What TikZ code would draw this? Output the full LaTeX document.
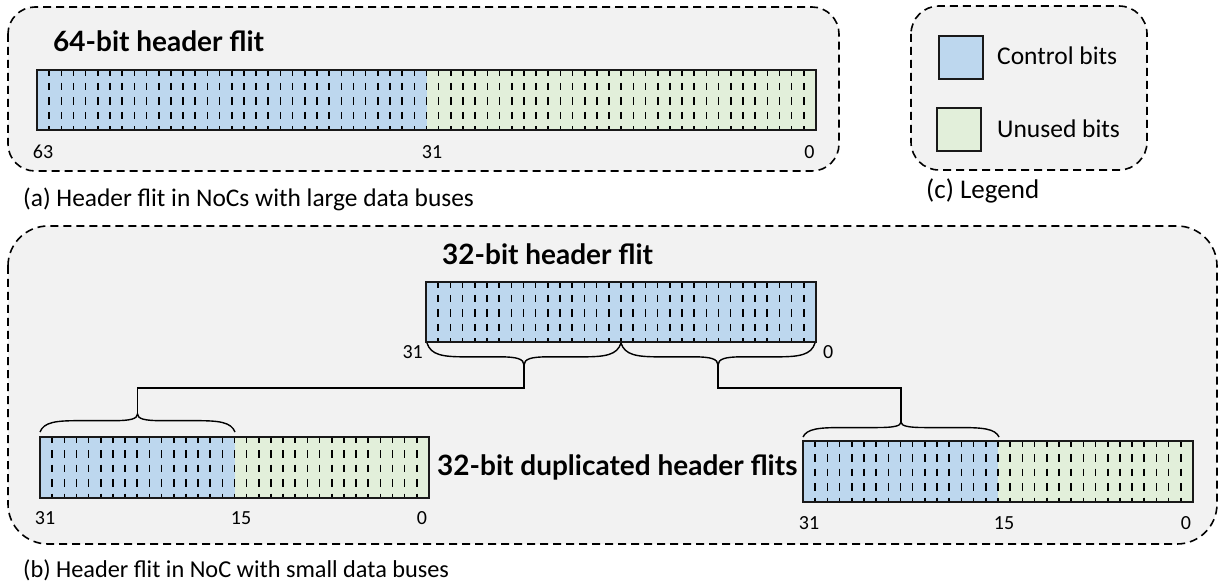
\documentclass[tikz,border=0pt]{standalone}
\usepackage{fontspec}
\setmainfont{Carlito}
\newfontfamily\titlefont{Lato}
\definecolor{ctrlblue}{HTML}{BDD7EE}
\definecolor{unusedgreen}{HTML}{E2EFDA}
\definecolor{panelbg}{HTML}{F2F2F2}
\tikzset{
  panel/.style={draw=black, fill=panelbg, line width=1.6pt, dash pattern=on 8pt off 5pt},
  ctrlfill/.style={fill=ctrlblue},
  unusedfill/.style={fill=unusedgreen},
  bittick/.style={draw=black, line width=1.6pt, dash pattern=on 7.5pt off 7pt, dash phase=1.5pt},
  barframe/.style={draw=black!90, line width=2pt},
  title/.style={inner sep=0pt, anchor=base west, font=\titlefont\bfseries\fontsize{28}{30}\selectfont},
  caption/.style={inner sep=0pt, anchor=base west, font=\fontsize{25.4}{28}\selectfont},
  bitnum/.style={inner sep=0pt, anchor=center, font=\fontsize{20}{22}\selectfont},
  legtext/.style={inner sep=0pt, anchor=base west, font=\fontsize{25.5}{28}\selectfont},
  legbox/.style={draw=black!90, line width=1.8pt},
  conn/.style={draw=black, line width=1.4pt},
  bracepath/.style={draw=black, line width=1.4pt},
}
% flit bar: x1,y1,x2,y2,nbits,nctrl
\newcommand{\flitbar}[6]{%
  \pgfmathsetmacro\fbw{(#3-#1)/#5}%
  \pgfmathsetmacro\fbxs{#1+#6*\fbw}%
  \fill[ctrlfill] (#1,#2) rectangle (\fbxs,#4);
  \ifnum#6<#5\relax \fill[unusedfill] (\fbxs,#2) rectangle (#3,#4);\fi
  \pgfmathtruncatemacro\fbn{#5-1}%
  \foreach \k in {1,...,\fbn}{\draw[bittick] ({#1+\k*\fbw},#2) -- ({#1+\k*\fbw},#4);}
  \draw[barframe] (#1,#2) rectangle (#3,#4);
}
% curly brace: x1,x2,y0,d (d>0 opens downward)
\newcommand{\curlybrace}[4]{%
  \pgfmathsetmacro\cbw{#2-#1}%
  \pgfmathsetmacro\cbm{(#1+#2)/2}%
  \draw[bracepath] (#1,#3)
    .. controls ({#1+0.02*\cbw},{#3+0.55*#4}) and ({#1+0.08*\cbw},{#3+0.63*#4}) .. ({#1+0.2*\cbw},{#3+0.63*#4})
    -- ({\cbm-0.12*\cbw},{#3+0.63*#4})
    .. controls ({\cbm-0.04*\cbw},{#3+0.63*#4}) and (\cbm,{#3+0.72*#4}) .. (\cbm,{#3+#4})
    .. controls (\cbm,{#3+0.72*#4}) and ({\cbm+0.04*\cbw},{#3+0.63*#4}) .. ({\cbm+0.12*\cbw},{#3+0.63*#4})
    -- ({#2-0.2*\cbw},{#3+0.63*#4})
    .. controls ({#2-0.08*\cbw},{#3+0.63*#4}) and ({#2-0.02*\cbw},{#3+0.55*#4}) .. (#2,#3);
}
\begin{document}
\begin{tikzpicture}[x=1pt,y=-1pt]
\useasboundingbox (0,0) rectangle (1221,585);

% panels
\draw[panel, rounded corners=27pt] (8,7) rectangle (839,171);
\draw[panel, rounded corners=28pt] (911,6) rectangle (1147,170);
\draw[panel, rounded corners=40pt] (8,226) rectangle (1217,544);

% (a) 64-bit header flit
\node[title] (ta) at (53,52) {64-bit header flit};
\flitbar{37}{70}{816}{130}{64}{32}
\node[bitnum] (a63) at (43,152) {63};
\node[bitnum] (a31) at (432,152) {31};
\node[bitnum] (a0) at (809.5,152) {0};
\node[caption] (capa) at (23,207) {(a) Header flit in NoCs with large data buses};

% (c) legend
\draw[legbox, ctrlfill] (939,36) rectangle (983,79);
\draw[legbox, unusedfill] (937,108) rectangle (981,151);
\node[legtext] (lc) at (997,65) {Control bits};
\node[legtext] (lu) at (997,138) {Unused bits};
\node[caption, font=\fontsize{27}{30}\selectfont] (capc) at (926,199) {(c) Legend};

% (b) 32-bit header flit
\node[title] (tb) at (442,265) {32-bit header flit};
\flitbar{426}{282}{816}{342}{32}{32}
\node[bitnum, anchor=east] (b31) at (423,352) {31};
\node[bitnum, anchor=west] (b0) at (823,352) {0};

\curlybrace{427}{621}{343}{22}
\curlybrace{621}{815}{343}{22}
\coordinate (tipL) at (524,365);
\coordinate (tipR) at (718,365);

% lower-left duplicated flit
\flitbar{40}{437}{429}{498}{32}{16}
\curlybrace{40}{235}{432}{-18}
\coordinate (tipLL) at (137.5,414);
\node[bitnum] (l31) at (45,518) {31};
\node[bitnum] (l15) at (241,518) {15};
\node[bitnum] (l0) at (422,518) {0};

% lower-right duplicated flit
\flitbar{803}{441}{1193}{502}{32}{16}
\curlybrace{803}{999}{437}{-15}
\coordinate (tipRR) at (901,422);
\node[bitnum] (r31) at (809,523) {31};
\node[bitnum] (r15) at (1004,523) {15};
\node[bitnum] (r0) at (1186,523) {0};

\node[title] (td) at (437,475) {32-bit duplicated header flits};

% connectors
\draw[conn] (tipL) -- (tipL |- 0,388) -- (tipLL |- 0,388) -- (tipLL);
\draw[conn] (tipR) -- (tipR |- 0,388) -- (tipRR |- 0,388) -- (tipRR);

\node[caption, font=\fontsize{24.3}{27}\selectfont] (capb) at (23,577) {(b) Header flit in NoC with small data buses};
\end{tikzpicture}
\end{document}
